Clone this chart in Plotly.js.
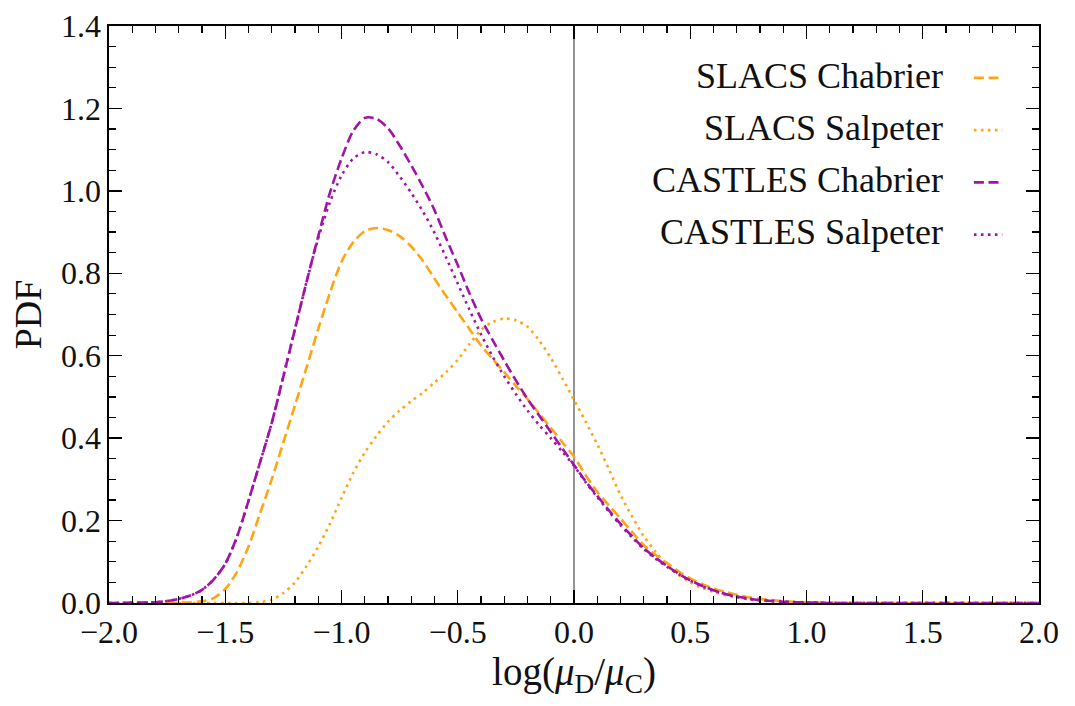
<!DOCTYPE html>
<html>
<head>
<meta charset="utf-8">
<script src="https://cdn.plot.ly/plotly-3.0.1.min.js"></script>
<style>
  html, body { margin: 0; padding: 0; background: #ffffff; }
  #chart { width: 1075px; height: 706px; }
</style>
</head>
<body>
<div id="chart"></div>
<script>
// log(mu_D / mu_C) grid, step 0.05 from -2.0 to 2.0
const logRatio = [
  -2.00, -1.95, -1.90, -1.85, -1.80, -1.75, -1.70, -1.65, -1.60, -1.55,
  -1.50, -1.45, -1.40, -1.35, -1.30, -1.25, -1.20, -1.15, -1.10, -1.05,
  -1.00, -0.95, -0.90, -0.85, -0.80, -0.75, -0.70, -0.65, -0.60, -0.55,
  -0.50, -0.45, -0.40, -0.35, -0.30, -0.25, -0.20, -0.15, -0.10, -0.05,
   0.00,  0.05,  0.10,  0.15,  0.20,  0.25,  0.30,  0.35,  0.40,  0.45,
   0.50,  0.55,  0.60,  0.65,  0.70,  0.75,  0.80,  0.85,  0.90,  0.95,
   1.00,  1.05,  1.10,  1.15,  1.20,  1.25,  1.30,  1.35,  1.40,  1.45,
   1.50,  1.55,  1.60,  1.65,  1.70,  1.75,  1.80,  1.85,  1.90,  1.95,
   2.00
];

const slacsChabrier = [
  0.000, 0.000, 0.000, 0.000, 0.000, 0.000, 0.001, 0.002, 0.004, 0.012,
  0.034, 0.075, 0.137, 0.218, 0.300, 0.390, 0.480, 0.572, 0.665, 0.752,
  0.828, 0.875, 0.902, 0.910, 0.905, 0.890, 0.865, 0.830, 0.787, 0.745,
  0.705, 0.665, 0.625, 0.592, 0.560, 0.527, 0.495, 0.460, 0.425, 0.390,
  0.355, 0.310, 0.270, 0.237, 0.205, 0.172, 0.140, 0.117, 0.097, 0.077,
  0.060, 0.046, 0.035, 0.027, 0.020, 0.014, 0.010, 0.007, 0.005, 0.003,
  0.002, 0.001, 0.001, 0.000, 0.000, 0.000, 0.000, 0.000, 0.000, 0.000,
  0.000, 0.000, 0.000, 0.000, 0.000, 0.000, 0.000, 0.000, 0.000, 0.000,
  0.000
];

const slacsSalpeter = [
  0.000, 0.000, 0.000, 0.000, 0.000, 0.000, 0.000, 0.000, 0.000, 0.000,
  0.000, 0.000, 0.000, 0.002, 0.008, 0.024, 0.050, 0.090, 0.137, 0.192,
  0.255, 0.315, 0.365, 0.405, 0.440, 0.467, 0.490, 0.510, 0.535, 0.560,
  0.590, 0.628, 0.662, 0.682, 0.690, 0.686, 0.670, 0.637, 0.595, 0.545,
  0.493, 0.440, 0.385, 0.325, 0.262, 0.210, 0.162, 0.125, 0.092, 0.068,
  0.050, 0.037, 0.027, 0.019, 0.013, 0.009, 0.006, 0.004, 0.002, 0.001,
  0.001, 0.000, 0.000, 0.000, 0.000, 0.000, 0.000, 0.000, 0.000, 0.000,
  0.000, 0.000, 0.000, 0.000, 0.000, 0.000, 0.000, 0.000, 0.000, 0.000,
  0.000
];

const castlesChabrier = [
  0.000, 0.000, 0.001, 0.001, 0.002, 0.005, 0.010, 0.018, 0.032, 0.057,
  0.095, 0.160, 0.248, 0.342, 0.437, 0.550, 0.665, 0.780, 0.890, 0.995,
  1.078, 1.145, 1.177, 1.175, 1.152, 1.110, 1.062, 1.010, 0.953, 0.885,
  0.820, 0.752, 0.690, 0.638, 0.588, 0.540, 0.495, 0.455, 0.415, 0.375,
  0.335, 0.295, 0.260, 0.225, 0.192, 0.162, 0.133, 0.110, 0.090, 0.071,
  0.055, 0.042, 0.031, 0.022, 0.016, 0.011, 0.007, 0.005, 0.003, 0.002,
  0.001, 0.001, 0.000, 0.000, 0.000, 0.000, 0.000, 0.000, 0.000, 0.000,
  0.000, 0.000, 0.000, 0.000, 0.000, 0.000, 0.000, 0.000, 0.000, 0.000,
  0.000
];

const castlesSalpeter = [
  0.000, 0.000, 0.001, 0.001, 0.002, 0.005, 0.010, 0.018, 0.032, 0.057,
  0.095, 0.160, 0.248, 0.342, 0.437, 0.550, 0.665, 0.780, 0.885, 0.972,
  1.037, 1.078, 1.094, 1.089, 1.070, 1.035, 0.995, 0.950, 0.898, 0.838,
  0.775, 0.712, 0.652, 0.598, 0.550, 0.507, 0.467, 0.432, 0.400, 0.367,
  0.333, 0.293, 0.257, 0.222, 0.189, 0.159, 0.131, 0.108, 0.088, 0.070,
  0.054, 0.041, 0.030, 0.022, 0.015, 0.010, 0.007, 0.005, 0.003, 0.002,
  0.001, 0.001, 0.000, 0.000, 0.000, 0.000, 0.000, 0.000, 0.000, 0.000,
  0.000, 0.000, 0.000, 0.000, 0.000, 0.000, 0.000, 0.000, 0.000, 0.000,
  0.000
];

const seriesNames = ['SLACS Chabrier', 'SLACS Salpeter', 'CASTLES Chabrier', 'CASTLES Salpeter'];

const ORANGE = '#ffa514';
const PURPLE = '#a014a8';
const DASH = '10px,4.6px';
const DOT = '2.6px,4.4px';

const styles = [
  {color: ORANGE, dash: DASH},
  {color: ORANGE, dash: DOT},
  {color: PURPLE, dash: DASH},
  {color: PURPLE, dash: DOT}
];
const seriesValues = [slacsChabrier, slacsSalpeter, castlesChabrier, castlesSalpeter];

const traces = seriesValues.map((ys, i) => ({
  x: logRatio,
  y: ys,
  type: 'scatter',
  mode: 'lines',
  name: seriesNames[i],
  line: {color: styles[i].color, dash: styles[i].dash, width: 2.6, shape: 'spline', smoothing: 0.8},
  hoverinfo: 'skip',
  showlegend: false
}));

const FONT = 'Liberation Serif, DejaVu Serif, serif';

// Legend drawn by hand: labels right-aligned, line sample to their right
const legendTop = 0.914;      // paper y of first row
const legendStep = 0.0905;    // paper spacing between rows
const annotations = [];
const shapes = [
  // vertical reference line at log ratio = 0
  {type: 'line', xref: 'x', yref: 'paper', x0: 0, x1: 0, y0: 0, y1: 1,
   line: {color: '#666666', width: 1.4}, layer: 'below'}
];
seriesNames.forEach((name, i) => {
  const y = legendTop - i * legendStep;
  annotations.push({
    xref: 'paper', yref: 'paper', x: 0.899, y: y,
    xanchor: 'right', yanchor: 'middle', showarrow: false,
    text: name, font: {family: FONT, size: 36, color: '#111111'}
  });
  shapes.push({
    type: 'line', xref: 'paper', yref: 'paper',
    x0: 0.93, x1: 0.9605, y0: y - 0.004, y1: y - 0.004,
    line: {color: styles[i].color, dash: styles[i].dash, width: 2.8}
  });
});

const axisCommon = {
  showgrid: false,
  zeroline: false,
  showline: true,
  linecolor: '#000000',
  linewidth: 1.6,
  mirror: 'allticks',
  ticks: 'inside',
  ticklen: 13,
  tickwidth: 1.4,
  tickcolor: '#000000',
  tickfont: {family: FONT, size: 32, color: '#111111'},
  minor: {ticks: 'inside', ticklen: 7, tickwidth: 1.2, tickcolor: '#000000', showgrid: false}
};

const layout = {
  width: 1075,
  height: 706,
  paper_bgcolor: '#ffffff',
  plot_bgcolor: '#ffffff',
  margin: {l: 109, r: 36, t: 26, b: 103},
  showlegend: false,
  xaxis: Object.assign({}, axisCommon, {
    range: [-2.0, 2.0],
    tickmode: 'linear', tick0: -2.0, dtick: 0.5,
    tickformat: '.1f',
    minor: Object.assign({}, axisCommon.minor, {dtick: 0.1, tick0: -2.0}),
    title: {text: 'log(<i>μ</i><sub>D</sub>/<i>μ</i><sub>C</sub>)',
            font: {family: FONT, size: 39, color: '#111111'}, standoff: 2}
  }),
  yaxis: Object.assign({}, axisCommon, {
    range: [0, 1.4],
    tickmode: 'linear', tick0: 0, dtick: 0.2,
    tickformat: '.1f',
    minor: Object.assign({}, axisCommon.minor, {dtick: 0.05, tick0: 0}),
    title: {text: 'PDF', font: {family: FONT, size: 38, color: '#111111'}, standoff: 8}
  }),
  annotations: annotations,
  shapes: shapes
};

Plotly.newPlot('chart', traces, layout, {displayModeBar: false, staticPlot: true});
</script>
</body>
</html>
